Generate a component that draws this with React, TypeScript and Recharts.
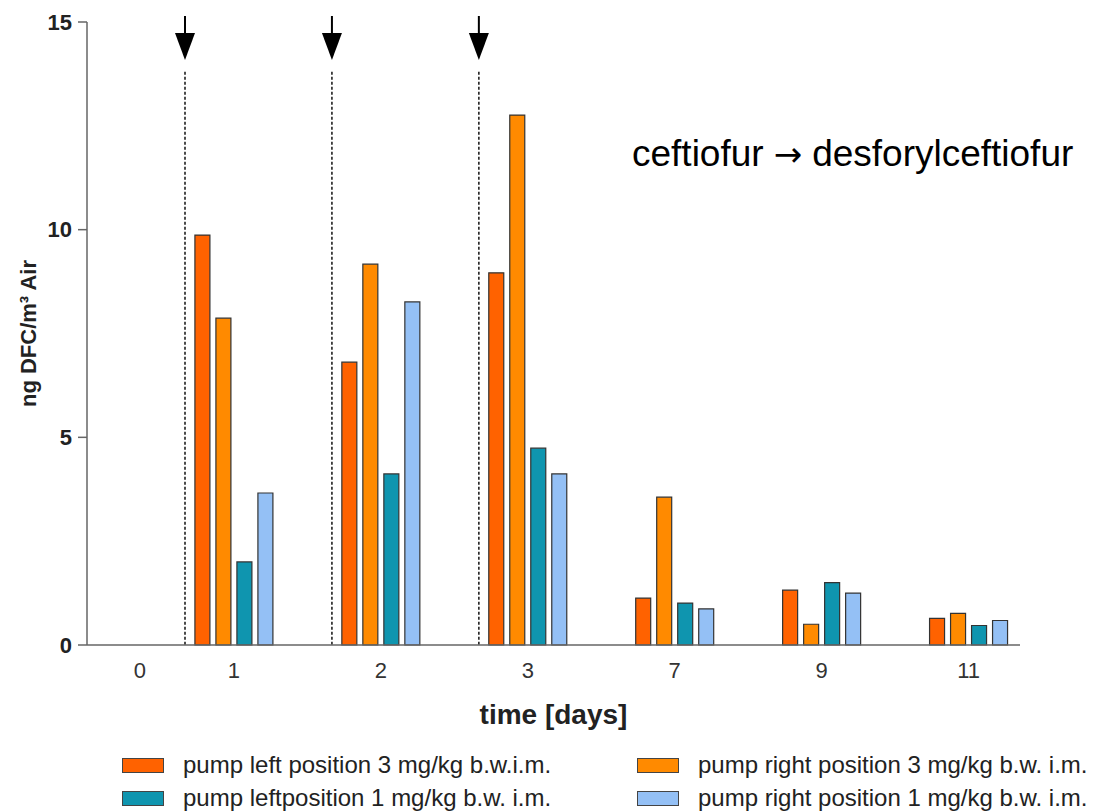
import {
  BarChart,
  Bar,
  XAxis,
  YAxis,
  ReferenceLine,
  ReferenceDot,
  Label,
} from 'recharts'

const days = ['0', '1', '2', '3', '7', '9', '11']
const leftPos3 = [null, 9.87, 6.81, 8.96, 1.13, 1.32, 0.64]
const rightPos3 = [null, 7.87, 9.17, 12.76, 3.56, 0.5, 0.76]
const leftPos1 = [null, 2.0, 4.12, 4.74, 1.01, 1.5, 0.47]
const rightPos1 = [null, 3.66, 8.26, 4.12, 0.87, 1.25, 0.59]
const yTicks = [0, 5, 10, 15]
const doseDays = ['1', '2', '3']

const series = [
  { key: 'lp3', name: 'pump left position 3 mg/kg b.w.i.m.', values: leftPos3, color: '#FF6200' },
  { key: 'rp3', name: 'pump right position 3 mg/kg b.w. i.m.', values: rightPos3, color: '#FF8A00' },
  { key: 'lp1', name: 'pump leftposition 1 mg/kg b.w. i.m.', values: leftPos1, color: '#0F95AF' },
  { key: 'rp1', name: 'pump right position 1 mg/kg b.w. i.m.', values: rightPos1, color: '#94C0F5' },
]

// day 0 has no bars and sits closer to the y axis than the other groups
const zeroSlot = 0.36
const slotOf = (i: number) => (i === 0 ? zeroSlot : i)

const data = days.map((d, i) => {
  const row: any = { day: d, pos: slotOf(i) }
  series.forEach((s) => (row[s.key] = s.values[i]))
  return row
})

const font = '"Liberation Sans", Arial, sans-serif'

const Arrow = (p: any) => {
  const { cx, cy } = p
  return (
    <g>
      <line x1={cx} y1={cy - 6} x2={cx} y2={cy + 14} stroke="#000" strokeWidth={2} />
      <path d={`M${cx - 10},${cy + 11} L${cx + 10},${cy + 11} L${cx},${cy + 38} Z`} fill="#000" />
    </g>
  )
}

export default function App() {
  return (
    <div style={{ position: 'absolute', left: 0, top: 0, width: 1103, height: 811, background: '#fff', fontFamily: font }}>
      <BarChart
        width={1103}
        height={811}
        data={data}
        margin={{ top: 22, right: 83, bottom: 66, left: 0 }}
        barSize={15}
        barGap={6}
      >
        <XAxis
          type="number"
          dataKey="pos"
          domain={[0, 6.35]}
          ticks={days.map((_, i) => slotOf(i))}
          tickFormatter={(v: number) => days[days.findIndex((_, i) => slotOf(i) === v)]}
          interval={0}
          height={100}
          tickLine={false}
          tickSize={8}
          tickMargin={9}
          stroke="#666"
          strokeWidth={1.5}
          tick={{ fill: '#333', fontSize: 22, fontFamily: font }}
        >
          <Label
            content={({ viewBox }: any) => (
              <text
                x={viewBox.x + viewBox.width / 2}
                y={viewBox.y + 79}
                textAnchor="middle"
                fontSize={28}
                fontWeight="bold"
                fontFamily={font}
                fill="#222"
              >
                time [days]
              </text>
            )}
          />
        </XAxis>
        <YAxis
          width={87}
          domain={[0, 15]}
          ticks={yTicks}
          tickSize={9}
          tickMargin={6}
          stroke="#666"
          strokeWidth={1.5}
          tick={{ fill: '#222', fontSize: 22, fontWeight: 'bold', fontFamily: font }}
        >
          <Label
            content={({ viewBox }: any) => (
              <text
                transform={`translate(28, ${viewBox.y + viewBox.height / 2}) rotate(-90)`}
                textAnchor="middle"
                dominantBaseline="central"
                fontSize={22}
                fontWeight="bold"
                fontFamily={font}
                fill="#222"
              >
                ng DFC/m³ Air
              </text>
            )}
          />
        </YAxis>
        {doseDays.map((d) => {
          const x = slotOf(days.indexOf(d)) - 0.333
          return (
            <ReferenceLine
              key={'l' + d}
              segment={[{ x, y: 13.8 }, { x, y: 0 }]}
              stroke="#111"
              strokeWidth={1.5}
              strokeDasharray="3 2"
            />
          )
        })}
        {doseDays.map((d) => (
          <ReferenceDot
            key={'a' + d}
            x={slotOf(days.indexOf(d)) - 0.333}
            y={15}
            shape={Arrow}
          />
        ))}
        {series.map((s) => (
          <Bar
            key={s.key}
            dataKey={s.key}
            name={s.name}
            fill={s.color}
            stroke="#333"
            strokeWidth={1.2}
            isAnimationActive={false}
          />
        ))}
      </BarChart>
      <div style={{ position: 'absolute', left: 632, top: 135, fontSize: 37, lineHeight: '37px', color: '#000', whiteSpace: 'nowrap' }}>
        ceftiofur<span style={{ fontFamily: '"DejaVu Sans"', fontSize: 34, margin: '0 10px' }}>→</span>desforylceftiofur
      </div>
      <div
        style={{
          position: 'absolute',
          left: 122,
          top: 752,
          display: 'grid',
          gridTemplateColumns: '515px 466px',
          rowGap: 7,
          fontSize: 24,
          color: '#222',
        }}
      >
        {series.map((s) => (
          <div key={s.key} style={{ display: 'flex', alignItems: 'center', height: 26, whiteSpace: 'nowrap' }}>
            <span
              style={{
                display: 'inline-block',
                flexShrink: 0,
                width: 40,
                height: 13,
                background: s.color,
                border: '1.5px solid #444',
                marginRight: 19,
              }}
            />
            <span>{s.name}</span>
          </div>
        ))}
      </div>
    </div>
  )
}
